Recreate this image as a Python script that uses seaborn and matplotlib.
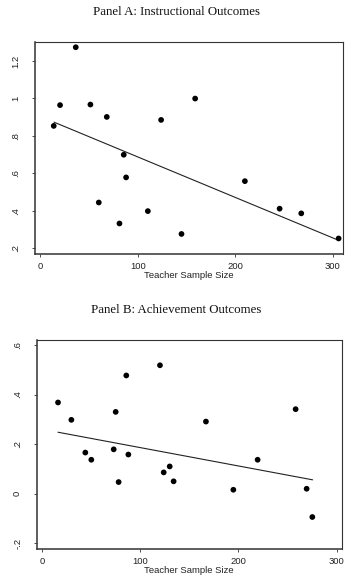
import matplotlib
matplotlib.use("Agg")
import matplotlib.pyplot as plt
import seaborn as sns
import pandas as pd

# Panel A: Instructional Outcomes
a_sample_size = [13.7, 20.2, 36.3, 51.3, 68.1, 59.9, 81.1, 85.5, 87.9, 110.2,
                 123.8, 144.7, 158.7, 209.7, 245.3, 267.5, 305.8]
a_effect = [0.853, 0.964, 1.273, 0.967, 0.901, 0.444, 0.332, 0.699, 0.578, 0.398,
            0.885, 0.276, 0.999, 0.558, 0.411, 0.386, 0.252]
a_fit_x = [14.0, 303.5]
a_fit_y = [0.873, 0.247]

# Panel B: Achievement Outcomes
b_sample_size = [16.3, 29.9, 44.1, 50.2, 73.0, 75.0, 78.0, 85.8, 87.9, 120.1,
                 123.9, 130.0, 134.0, 166.9, 194.8, 219.5, 258.2, 269.4, 275.2]
b_effect = [0.368, 0.298, 0.166, 0.137, 0.179, 0.330, 0.047, 0.477, 0.158, 0.518,
            0.086, 0.110, 0.050, 0.291, 0.016, 0.137, 0.341, 0.020, -0.094]
b_fit_x = [16.3, 275.5]
b_fit_y = [0.248, 0.056]

a_yticks = [0.2, 0.4, 0.6, 0.8, 1.0, 1.2]
a_yticklabels = [".2", ".4", ".6", ".8", "1", "1.2"]
b_yticks = [-0.2, 0.0, 0.2, 0.4, 0.6]
b_yticklabels = ["-.2", "0", ".2", ".4", ".6"]
xticks = [0, 100, 200, 300]
xticklabels = ["0", "100", "200", "300"]

sns.set_theme(style="white")
plt.rcParams["font.family"] = ["Liberation Sans", "DejaVu Sans"]

W, H = 358, 587
fig = plt.figure(figsize=(W / 100, H / 100), dpi=100)

def box(l, t, r, b):
    return [l / W, 1 - b / H, (r - l) / W, (b - t) / H]

axA = fig.add_axes(box(35, 42, 343, 254))
axB = fig.add_axes(box(36.7, 340, 341.7, 549))

panels = [
    (axA, a_sample_size, a_effect, a_fit_x, a_fit_y, (-5.5, 310.3), (0.169, 1.301),
     a_yticks, a_yticklabels, "Panel A: Instructional Outcomes", 12),
    (axB, b_sample_size, b_effect, b_fit_x, b_fit_y, (-5.4, 305.1), (-0.223, 0.620),
     b_yticks, b_yticklabels, "Panel B: Achievement Outcomes", 310),
]

for ax, xs, ys, fx, fy, xlim, ylim, yt, ytl, title, ty in panels:
    sns.lineplot(x=fx, y=fy, ax=ax, color="#222222", lw=0.8)
    sns.scatterplot(x=xs, y=ys, ax=ax, s=17, color="black", edgecolor="none",
                    linewidth=0, zorder=3)
    ax.set_xlim(*xlim)
    ax.set_ylim(*ylim)
    ax.set_xticks(xticks)
    ax.set_xticklabels(xticklabels)
    ax.set_yticks(yt)
    ax.set_yticklabels(ytl, rotation=90, va="center")
    ax.set_xlabel("Teacher Sample Size", fontsize=6.8, color="#222222", labelpad=0.3)
    ax.set_ylabel("")
    ax.tick_params(axis="both", which="major", length=2.5, width=0.6, color="#333333",
                   labelsize=6.8, labelcolor="#222222", direction="out",
                   bottom=True, left=True)
    ax.tick_params(axis="y", pad=8)
    ax.tick_params(axis="x", pad=3)
    for side, sp in ax.spines.items():
        sp.set_visible(True)
        sp.set_color("#333333")
        sp.set_linewidth(1.1 if side in ("left", "bottom") else 0.8)
    fig.text(0.5 * (88 + 265) / W, 1 - ty / H, title, ha="center", va="center",
             fontsize=9.3, family=["Liberation Serif", "DejaVu Serif"], color="#111111")

fig.savefig("out.png", dpi=100, facecolor="white")
